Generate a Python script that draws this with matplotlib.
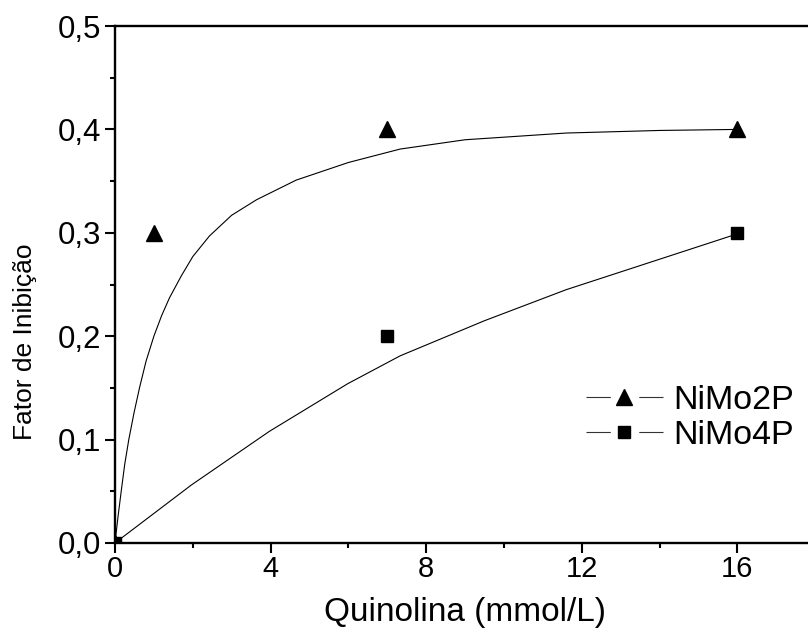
import matplotlib
matplotlib.use("Agg")
import matplotlib.pyplot as plt
from matplotlib.lines import Line2D
from matplotlib.legend_handler import HandlerTuple
from matplotlib.ticker import MultipleLocator, FuncFormatter

plt.rcParams['font.family'] = ['Liberation Sans', 'DejaVu Sans']
plt.rcParams['lines.scale_dashes'] = False

# measured points
quinolina = [0, 1, 7, 16]
nimo2p = [0, 0.3, 0.4, 0.4]
quinolina_4p = [0, 7, 16]
nimo4p = [0, 0.2, 0.3]

# fitted curves (read along the drawn fit)
fit2p_x = [0, 0.08, 0.16, 0.25, 0.355, 0.49, 0.63, 0.8, 1.0, 1.2, 1.4, 1.7, 2.0,
           2.43, 3.0, 3.64, 4.66, 6.0, 7.33, 9.0, 11.6, 14.0, 16.0]
fit2p_y = [0, 0.026, 0.05, 0.076, 0.10, 0.126, 0.15, 0.176, 0.20, 0.220, 0.237,
           0.258, 0.277, 0.297, 0.317, 0.332, 0.351, 0.368, 0.381, 0.390,
           0.3965, 0.399, 0.400]
fit4p_x = [0, 1.96, 3.97, 5.98, 7.33, 9.5, 11.6, 13.8, 16.0]
fit4p_y = [0, 0.056, 0.108, 0.154, 0.181, 0.215, 0.245, 0.272, 0.299]

fig = plt.figure(figsize=(8.08, 6.41), dpi=100)
ax = fig.add_axes([0.1423, 0.1529, 0.8666, 0.8065])

ax.plot(fit2p_x, fit2p_y, color='black', lw=0.8)
ax.plot(fit4p_x, fit4p_y, color='black', lw=0.8)
ax.plot(quinolina, nimo2p, linestyle='none', marker='^', ms=11, color='black')
ax.plot(quinolina_4p, nimo4p, linestyle='none', marker='s', ms=8.5, color='black')

ax.set_xlim(0, 18)
ax.set_ylim(0, 0.5)
ax.xaxis.set_major_locator(MultipleLocator(4))
ax.xaxis.set_minor_locator(MultipleLocator(2))
ax.yaxis.set_major_locator(MultipleLocator(0.1))
ax.yaxis.set_minor_locator(MultipleLocator(0.05))
ax.yaxis.set_major_formatter(FuncFormatter(lambda v, p: f"{v:.1f}".replace('.', ',')))

for s in ax.spines.values():
    s.set_linewidth(1.7)
ax.tick_params(which='major', direction='out', length=7, width=1.5)
ax.tick_params(which='minor', direction='out', length=3.5, width=1.5)
ax.tick_params(axis='x', which='major', labelsize=21, pad=2)
ax.tick_params(axis='y', which='major', labelsize=22.5, pad=3)
ax.tick_params(top=False, right=False, which='both')

ax.set_xlabel('Quinolina (mmol/L)', fontsize=24, labelpad=10)
ax.set_ylabel('Fator de Inibição', fontsize=19)
ax.yaxis.set_label_coords(-0.112, 0.389)

# legend entries: line broken around the marker
seg = (17.5, 20.5)
handles = []
for m, ms in (('^', 11), ('s', 8.5)):
    ln = Line2D([], [], color='#333333', lw=0.8, dashes=seg)
    mk = Line2D([], [], color='black', linestyle='none', marker=m, ms=ms)
    handles.append((ln, mk))
ax.legend(handles, ['NiMo2P', 'NiMo4P'], loc='center left',
          handler_map={tuple: HandlerTuple(ndivide=1, pad=0)},
          bbox_to_anchor=(0.672, 0.242), frameon=False, fontsize=24.5,
          handlelength=2.27, handletextpad=0.3, borderpad=0, labelspacing=0.1,
          borderaxespad=0, numpoints=1)

fig.savefig('out.png', dpi=100)
